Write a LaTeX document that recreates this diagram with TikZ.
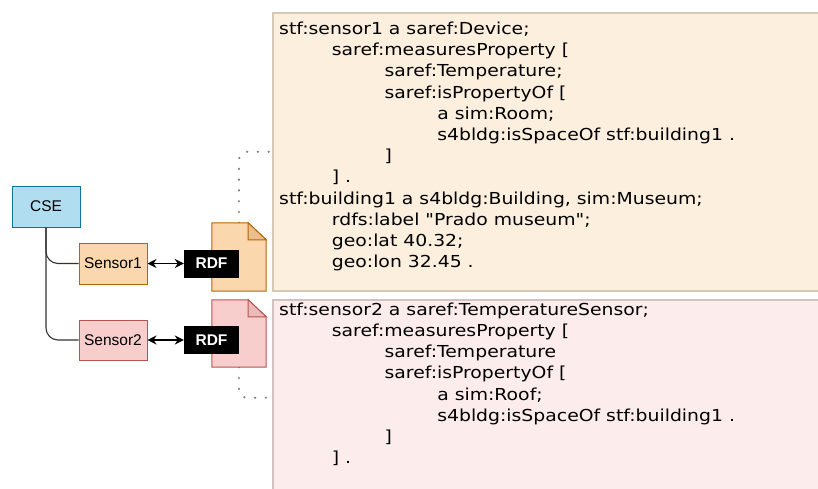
\documentclass[tikz,border=0pt]{standalone}
\usepackage{fontspec}
\setmainfont{DejaVu Sans}[Ligatures=TeXOff, FakeStretch=1.14]
\newfontfamily\labelfont{Liberation Sans}
\usetikzlibrary{arrows.meta}

\definecolor{cseblue}{RGB}{177,221,240}
\definecolor{cseline}{RGB}{16,115,158}
\definecolor{orangefill}{RGB}{250,215,172}
\definecolor{orangeline}{RGB}{180,101,4}
\definecolor{orangefold}{RGB}{236,190,140}
\definecolor{pinkfill}{RGB}{248,206,204}
\definecolor{pinkline}{RGB}{184,84,80}
\definecolor{pinkfold}{RGB}{236,186,184}
\definecolor{codeorange}{RGB}{253,239,222}
\definecolor{codeorangeline}{RGB}{214,200,180}
\definecolor{codepink}{RGB}{253,236,236}
\definecolor{codepinkline}{RGB}{212,194,194}
\definecolor{dotgrey}{RGB}{138,126,118}

\newcommand{\tb}{\hspace*{52.7pt}}

\begin{document}
\begin{tikzpicture}[x=1pt,y=-1pt]

\tikzstyle{box} = [draw, line width=1pt, inner sep=0pt, minimum width=68pt, font=\labelfont\fontsize{15.5}{18}\selectfont]
\tikzstyle{rdf} = [fill=black, text=white, inner sep=0pt, minimum width=55pt, minimum height=28pt, font=\labelfont\bfseries\fontsize{15.5}{18}\selectfont]
\tikzstyle{doc} = [inner sep=0pt, minimum width=54pt]
\tikzstyle{docline} = [line width=1pt]
\tikzstyle{codebox} = [draw, line width=1.5pt, inner sep=0pt, minimum width=560pt, anchor=north west]
\tikzstyle{codetext} = [align=left, inner sep=0pt, anchor=north west, font=\fontsize{16.5}{21.2}\selectfont]
\tikzstyle{tree} = [line width=1.1pt, draw=black!80, rounded corners=12pt]
\tikzstyle{link} = [{Stealth[length=9pt,width=9pt]}-{Stealth[length=9pt,width=9pt]}, line width=1.5pt]
\tikzstyle{dots} = [draw=dotgrey, line width=2.4pt, line cap=round, dash pattern=on 0pt off 10.8pt, rounded corners=8pt]

\useasboundingbox (0,0) rectangle (818,488);

\node[codebox, fill=codeorange, draw=codeorangeline, minimum height=278pt](code1) at (272,12){};
\node[codebox, fill=codepink, draw=codepinkline, minimum height=196pt](code2) at (272,299){};

\node[codetext](txt1) at (279,21.8){stf:sensor1 a saref:Device;\\
\tb saref:measuresProperty [\\
\tb\tb saref:Temperature;\\
\tb\tb saref:isPropertyOf [\\
\tb\tb\tb a sim:Room;\\
\tb\tb\tb s4bldg:isSpaceOf stf:building1 .\\
\tb\tb ]\\
\tb ] .\\
stf:building1 a s4bldg:Building, sim:Museum;\\
\tb rdfs:label "Prado museum";\\
\tb geo:lat 40.32;\\
\tb geo:lon 32.45 .};

\node[codetext](txt2) at (279,302.5){stf:sensor2 a saref:TemperatureSensor;\\
\tb saref:measuresProperty [\\
\tb\tb saref:Temperature\\
\tb\tb saref:isPropertyOf [\\
\tb\tb\tb a sim:Roof;\\
\tb\tb\tb s4bldg:isSpaceOf stf:building1 .\\
\tb\tb ]\\
\tb ] .};

\node[box, fill=cseblue, draw=cseline, minimum height=41pt](cse) at (46,206.5){CSE};
\node[box, fill=orangefill, draw=orangeline, minimum height=41pt](s1) at (113,263.5){Sensor1};
\node[box, fill=pinkfill, draw=pinkline, minimum height=40pt](s2) at (113,340){Sensor2};

\node[doc, minimum height=68pt](doc1) at (239,257){};
\node[doc, minimum height=67pt](doc2) at (239,333.5){};

\draw[dots] (doc1.north) |- (code1.west);
\draw[dots] (doc2.south) |- (code2.west);

\draw[docline, fill=orangefill, draw=orangeline] (doc1.north west) -- ([xshift=-18pt]doc1.north east) -- ([yshift=-17pt]doc1.north east) -- (doc1.south east) -- (doc1.south west) -- cycle;
\draw[docline, fill=orangefold, draw=orangeline] ([xshift=-18pt]doc1.north east) -- ([xshift=-18pt,yshift=-17pt]doc1.north east) -- ([yshift=-17pt]doc1.north east) -- cycle;
\draw[docline, fill=pinkfill, draw=pinkline] (doc2.north west) -- ([xshift=-18pt]doc2.north east) -- ([yshift=-17pt]doc2.north east) -- (doc2.south east) -- (doc2.south west) -- cycle;
\draw[docline, fill=pinkfold, draw=pinkline] ([xshift=-18pt]doc2.north east) -- ([xshift=-18pt,yshift=-17pt]doc2.north east) -- ([yshift=-17pt]doc2.north east) -- cycle;

\node[rdf](rdf1) at (211.5,263.5){RDF};
\node[rdf](rdf2) at (211.5,340){RDF};

\draw[tree] (cse.south) |- (s1.west);
\draw[tree] (cse.south) |- (s2.west);

\draw[link] (s1) -- (rdf1);
\draw[link] (s2) -- (rdf2);

\end{tikzpicture}
\end{document}
